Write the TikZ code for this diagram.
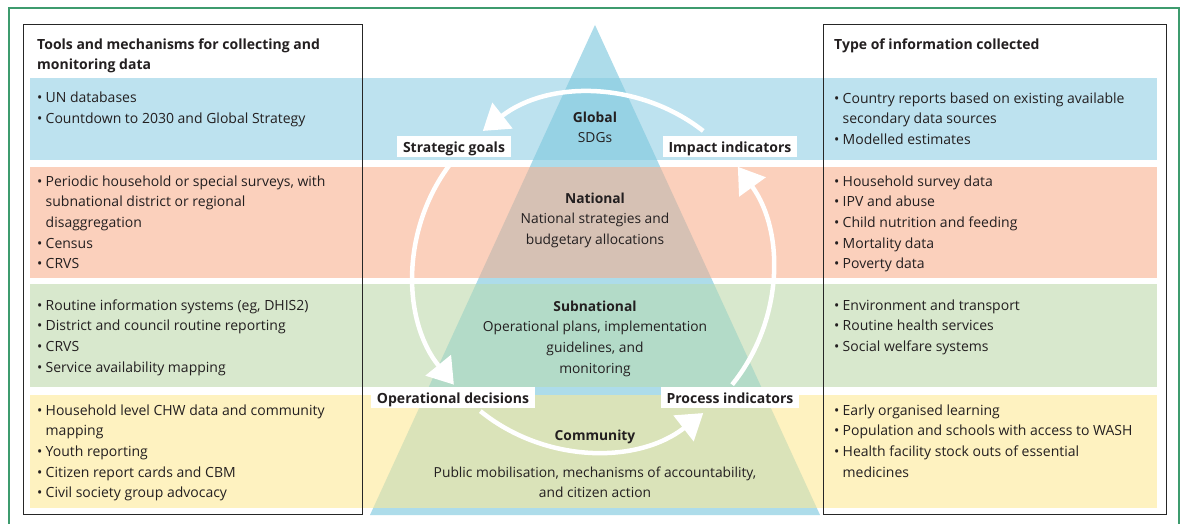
\documentclass[tikz,border=0pt]{standalone}
\usepackage{fontspec}
\setmainfont{Open Sans}
\usetikzlibrary{arrows.meta}
\definecolor{frameg}{HTML}{3E9B6E}
\definecolor{bandblue}{HTML}{BDE2EF}
\definecolor{bandpink}{HTML}{FBD0BC}
\definecolor{bandgreen}{HTML}{D8E8CD}
\definecolor{bandyellow}{HTML}{FEF2C0}
\definecolor{tri}{HTML}{ADDCEA}
\definecolor{triblue}{HTML}{96D2E4}
\definecolor{tripink}{HTML}{D6C1B4}
\definecolor{trigreen}{HTML}{B3DBC8}
\definecolor{triyellow}{HTML}{DAE3B9}
\definecolor{txt}{HTML}{231F20}
\newcommand\itm{\makebox[8.5pt][l]{\textbullet}}
\newcommand\cnt{\hspace*{8.5pt}}
\newcommand\bandfill[4]{%
  \fill[#3] (30,-#1) rectangle (1157,-#2);
  \begin{scope}
    \clip (595,-25) -- (370,-515) -- (820,-515) -- cycle;
    \fill[#4] (30,-#1) rectangle (1157,-#2);
  \end{scope}}
\begin{document}
\begin{tikzpicture}[x=1pt,y=1pt,
  tx/.style={font=\fontsize{14}{20.7}\selectfont, text=txt, inner sep=0pt, align=left, anchor=base west},
  hd/.style={font=\bfseries\fontsize{14}{20}\selectfont, text=txt, inner sep=0pt, align=left, anchor=base west},
  ct/.style={font=\fontsize{13.8}{20.7}\selectfont, text=txt, inner sep=0pt, align=center, anchor=base},
  lab/.style={fill=white, font=\bfseries\fontsize{14}{16}\selectfont, text=txt, inner xsep=6pt, inner ysep=3pt, text height=13pt, text depth=2pt, anchor=base},
  box/.style={draw=black!85, line width=0.8pt},
  cyc/.style={draw=white, line width=4.5pt, -{Triangle[length=25pt,width=32pt,fill=white]}}]
\useasboundingbox (0,0) rectangle (1182,-524);
\fill[white] (0,0) rectangle (1182,-524);
\draw[frameg, line width=1.2pt] (9,-524) -- (9,-8) -- (1179,-8) -- (1179,-524);
% pyramid
\fill[tri] (595,-25) coordinate (apex) -- (370,-515) coordinate (bl) -- (820,-515) coordinate (br) -- cycle;
% bands
\bandfill{78}{160}{bandblue}{triblue}
\bandfill{167}{278}{bandpink}{tripink}
\bandfill{284}{387}{bandgreen}{trigreen}
\bandfill{395}{508}{bandyellow}{triyellow}
% side boxes
\draw[box] (23,-24) rectangle (362,-514);
\draw[box] (823,-24) rectangle (1166,-514);
% cycle arrows
\coordinate (c) at (593,-272);
\draw[cyc] ([shift={(52:179)}]c) arc[start angle=52, end angle=128, radius=179];
\draw[cyc] ([shift={(143:179)}]c) arc[start angle=143, end angle=219, radius=179];
\draw[cyc] ([shift={(231:179)}]c) arc[start angle=231, end angle=308, radius=179];
\draw[cyc] ([shift={(321:179)}]c) arc[start angle=321, end angle=396, radius=179];
% labels
\node[lab] (sg) at (454,-152) {Strategic goals};
\node[lab] (ii) at (730,-152) {Impact indicators};
\node[lab] (od) at (453,-403) {Operational decisions};
\node[lab] (pi) at (730,-403) {Process indicators};
% centre texts (anchor = baseline of last line)
\node[ct] (glob) at (595,-142.7) {\textbf{Global}\\SDGs};
\node[ct] (nat) at (595,-244.4) {\textbf{National}\\National strategies and\\budgetary allocations};
\node[ct] (sub) at (595,-373.1) {\textbf{Subnational}\\Operational plans, implementation\\guidelines, and\\monitoring};
\node[ct] (com) at (595,-440) {\textbf{Community}};
\node[ct] (pub) at (595,-497.7) {Public mobilisation, mechanisms of accountability,\\and citizen action};
% left texts
\node[hd] (lh) at (37,-70) {Tools and mechanisms for collecting and\\monitoring data};
\node[tx] (l1) at (37,-123.7) {\itm UN databases\\ \itm Countdown to 2030 and Global Strategy};
\node[tx] (l2) at (37,-268.8) {\itm Periodic household or special surveys, with\\ \cnt subnational district or regional\\ \cnt disaggregation\\ \itm Census\\ \itm CRVS};
\node[tx] (l3) at (37,-372.1) {\itm Routine information systems (eg, DHIS2)\\ \itm District and council routine reporting\\ \itm CRVS\\ \itm Service availability mapping};
\node[tx] (l4) at (37,-497.8) {\itm Household level CHW data and community\\ \cnt mapping\\ \itm Youth reporting\\ \itm Citizen report cards and CBM\\ \itm Civil society group advocacy};
% right texts
\node[hd] (rh) at (834,-50) {Type of information collected};
\node[tx] (r1) at (834,-144.4) {\itm Country reports based on existing available\\ \cnt secondary data sources\\ \itm Modelled estimates};
\node[tx] (r2) at (834,-268.8) {\itm Household survey data\\ \itm IPV and abuse\\ \itm Child nutrition and feeding\\ \itm Mortality data\\ \itm Poverty data};
\node[tx] (r3) at (834,-351.4) {\itm Environment and transport\\ \itm Routine health services\\ \itm Social welfare systems};
\node[tx] (r4) at (834,-477.1) {\itm Early organised learning\\ \itm Population and schools with access to WASH\\ \itm Health facility stock outs of essential\\ \cnt medicines};
\end{tikzpicture}
\end{document}
